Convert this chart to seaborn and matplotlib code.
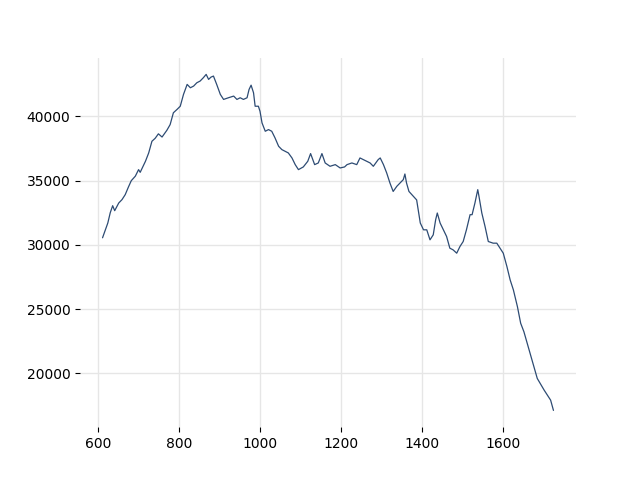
import matplotlib
matplotlib.use("Agg")
import matplotlib.pyplot as plt
import seaborn as sns
import pandas as pd

x_vals = [611, 618, 624, 630, 636, 641, 651, 659, 667, 675, 682, 692, 700, 704, 717, 725, 733,
          741, 749, 758, 770, 778, 786, 795, 803, 811, 820, 828, 836, 844, 852, 860, 867, 873,
          879, 885, 893, 902, 910, 922, 935, 943, 951, 959, 968, 973, 978, 984, 988, 996,
          1000, 1005, 1013, 1021, 1029, 1037, 1046, 1054, 1062, 1070, 1079, 1087, 1095, 1107,
          1118, 1125, 1135, 1144, 1153, 1161, 1173, 1186, 1198, 1209, 1215, 1227, 1239,
          1247, 1264, 1272, 1280, 1292, 1297, 1305, 1313, 1321, 1329, 1338, 1346, 1354, 1358,
          1362, 1368, 1379, 1387, 1396, 1404, 1412, 1420, 1428, 1434, 1438, 1445, 1453, 1461,
          1469, 1477, 1486, 1494, 1502, 1510, 1519, 1524, 1531, 1538, 1541, 1548, 1556, 1564,
          1576, 1585, 1593, 1601, 1610, 1618, 1626, 1636, 1644, 1652, 1665, 1677, 1685, 1702,
          1718, 1725]
y_vals = [30550, 31170, 31700, 32500, 33050, 32660, 33260, 33520, 33910, 34510, 35000, 35350,
          35860, 35650, 36510, 37160, 38070, 38300, 38650, 38400, 38930, 39370, 40290, 40550,
          40800, 41720, 42500, 42240, 42370, 42630, 42760, 43020, 43280, 42890, 43070, 43150,
          42500, 41720, 41330, 41460, 41590, 41330, 41460, 41330, 41460, 42110, 42440, 41850,
          40800, 40800, 40410, 39500, 38850, 38980, 38850, 38340, 37680, 37420, 37290, 37160,
          36770, 36250, 35860, 36070, 36510, 37110, 36250, 36380, 37110, 36380, 36120, 36250,
          35990, 36070, 36250, 36380, 36250, 36770, 36510, 36380, 36120, 36640, 36770, 36250,
          35600, 34820, 34160, 34560, 34820, 35080, 35520, 34820, 34160, 33780, 33500, 31700,
          31170, 31170, 30390, 30780, 31960, 32480, 31700, 31170, 30650, 29740, 29610, 29350,
          29870, 30260, 31170, 32350, 32350, 33260, 34300, 33780, 32480, 31430, 30260, 30130,
          30130, 29740, 29350, 28310, 27270, 26490, 25180, 23890, 23230, 21800, 20500, 19590,
          18680, 17900, 17100]

df = pd.DataFrame({"x": x_vals, "y": y_vals})

sns.set_style("whitegrid", {"grid.color": "#e6e6e6", "axes.edgecolor": "white"})
plt.rcParams["font.family"] = ["DejaVu Sans"]
plt.rcParams["xtick.bottom"] = True
plt.rcParams["ytick.left"] = True

fig, ax = plt.subplots(figsize=(6.4, 4.8), dpi=100)
sns.lineplot(data=df, x="x", y="y", ax=ax, color="#2d4b73", linewidth=0.9)
ax.set_xlabel("")
ax.set_ylabel("")
for s in ax.spines.values():
    s.set_visible(False)
ax.tick_params(axis="both", colors="black", length=3.5, width=0.8, labelsize=10)
ax.grid(True, color="#e6e6e6", linewidth=1)
fig.savefig("out.png", dpi=100)
